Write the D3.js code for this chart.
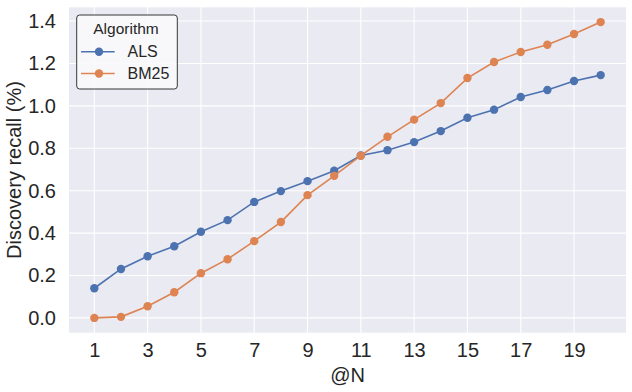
<!DOCTYPE html>
<html><head><meta charset="utf-8">
<script src="https://cdn.jsdelivr.net/npm/d3@7"></script>
<style>
html,body{margin:0;padding:0;background:#fff;}
svg{display:block;font-family:"Liberation Sans",Arial,sans-serif;}
</style></head>
<body>
<svg id="c" width="632" height="392"></svg>
<script>
const atN = [1,2,3,4,5,6,7,8,9,10,11,12,13,14,15,16,17,18,19,20];
const alsValues = [0.140,0.231,0.291,0.338,0.406,0.461,0.547,0.598,0.645,0.694,0.766,0.791,0.829,0.881,0.944,0.982,1.042,1.075,1.117,1.145];
const bm25Values = [0.000,0.005,0.055,0.121,0.211,0.277,0.362,0.452,0.579,0.670,0.765,0.854,0.935,1.013,1.131,1.207,1.254,1.288,1.339,1.395];
const xTicks = [1,3,5,7,9,11,13,15,17,19];
const yTicks = [0.0,0.2,0.4,0.6,0.8,1.0,1.2,1.4];
const seriesNames = ["ALS","BM25"];
const seriesColors = ["#4c72b0","#dd8452"];

const svg = d3.select("#c");
const L = 69, R = 626, T = 7.3, B = 332.7;
const x = d3.scaleLinear().domain([0.05, 20.95]).range([L, R]);
const y = d3.scaleLinear().domain([-0.0697, 1.4647]).range([B, T]);

svg.append("rect").attr("x", L).attr("y", T).attr("width", R - L).attr("height", B - T).attr("fill", "#eaeaf2");

// grid
svg.append("g").selectAll("line").data(xTicks).join("line")
  .attr("x1", d => x(d)).attr("x2", d => x(d)).attr("y1", T).attr("y2", B)
  .attr("stroke", "#fff").attr("stroke-width", 1.1);
svg.append("g").selectAll("line").data(yTicks).join("line")
  .attr("x1", L).attr("x2", R).attr("y1", d => y(d)).attr("y2", d => y(d))
  .attr("stroke", "#fff").attr("stroke-width", 1.1);

// axes
const xAxis = svg.append("g").attr("transform", `translate(0,${B})`)
  .call(d3.axisBottom(x).tickValues(xTicks).tickSize(0).tickPadding(10).tickFormat(d3.format("d")));
xAxis.select(".domain").remove();
xAxis.selectAll("text").attr("font-size", 20).attr("fill", "#262626").attr("font-family", "Liberation Sans, Arial, sans-serif");

const yAxis = svg.append("g").attr("transform", `translate(${L},0)`)
  .call(d3.axisLeft(y).tickValues(yTicks).tickSize(0).tickPadding(13).tickFormat(d3.format(".1f")));
yAxis.select(".domain").remove();
yAxis.selectAll("text").attr("font-size", 20).attr("fill", "#262626").attr("font-family", "Liberation Sans, Arial, sans-serif");

// labels
svg.append("text").attr("x", (L + R) / 2).attr("y", 381.7).attr("text-anchor", "middle")
  .attr("font-size", 20).attr("fill", "#262626").text("@N");
svg.append("text").attr("transform", `translate(20.5,${(T + B) / 2}) rotate(-90)`).attr("text-anchor", "middle")
  .attr("font-size", 20).attr("fill", "#262626").text("Discovery recall (%)");

// series
const allSeries = [alsValues, bm25Values];
const line = d3.line().x((d, i) => x(atN[i])).y(d => y(d));
allSeries.forEach((vals, k) => {
  svg.append("path").datum(vals).attr("d", line).attr("fill", "none")
    .attr("stroke", seriesColors[k]).attr("stroke-width", 1.6);
  svg.append("g").selectAll("circle").data(vals).join("circle")
    .attr("cx", (d, i) => x(atN[i])).attr("cy", d => y(d)).attr("r", 4.2)
    .attr("fill", seriesColors[k]);
});

// legend
const lg = svg.append("g");
lg.append("rect").attr("x", 76.7).attr("y", 15).attr("width", 100.6).attr("height", 74).attr("rx", 3)
  .attr("fill", "#fafafc").attr("fill-opacity", 0.9).attr("stroke", "#222").attr("stroke-width", 0.9);
lg.append("text").attr("x", 126).attr("y", 34).attr("text-anchor", "middle")
  .attr("font-size", 15.5).attr("fill", "#262626").text("Algorithm");
seriesNames.forEach((name, k) => {
  const yy = 51.7 + k * 21.8;
  lg.append("line").attr("x1", 81).attr("x2", 114.7).attr("y1", yy).attr("y2", yy)
    .attr("stroke", seriesColors[k]).attr("stroke-width", 1.6);
  lg.append("circle").attr("cx", 99).attr("cy", yy).attr("r", 4.2).attr("fill", seriesColors[k]);
  lg.append("text").attr("x", 127.5).attr("y", yy + 5.2).attr("font-size", 16).attr("fill", "#262626").text(name);
});
</script>
</body></html>
